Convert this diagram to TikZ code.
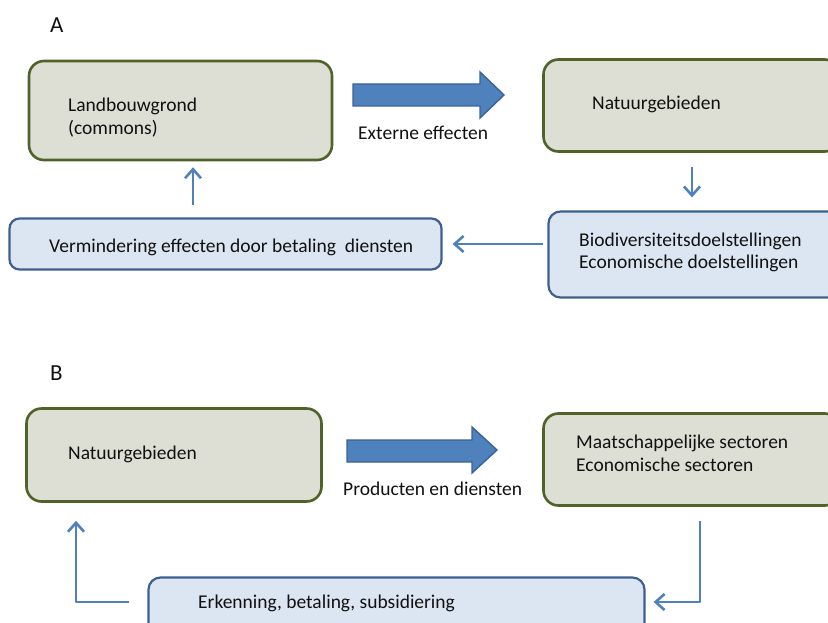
\documentclass[tikz,border=0pt]{standalone}
\usepackage{fontspec}
\setmainfont{Carlito}
\usetikzlibrary{arrows.meta}
\definecolor{olivefill}{HTML}{DDDFD4}
\definecolor{olivedraw}{HTML}{4F6228}
\definecolor{bluefill}{HTML}{DCE6F2}
\definecolor{bluedraw}{HTML}{3E6090}
\definecolor{arrowblue}{HTML}{4F81BD}
\definecolor{arrowedge}{HTML}{3A6396}
\definecolor{txt}{HTML}{111111}
\tikzset{
  greenbox/.style={draw=olivedraw, fill=olivefill, line width=2.6pt, rounded corners=15pt, inner sep=0pt},
  bluebox/.style={draw=bluedraw, fill=bluefill, line width=2.2pt, rounded corners=12pt, inner sep=0pt},
  label/.style={anchor=base west, inner sep=0pt, text=txt, font=\fontsize{19.5}{23}\selectfont},
  panel/.style={anchor=base west, inner sep=0pt, text=txt, font=\fontsize{23}{26}\selectfont},
  conn/.style={draw=arrowblue, line width=2.6pt, line join=round,
    -{Straight Barb[length=9pt,width=16pt,line width=2.6pt]}},
  bigarrow/.style={fill=arrowblue, draw=arrowedge, line width=1.4pt, line join=miter}
}
\begin{document}
\begin{tikzpicture}[x=1pt,y=-1pt]
\useasboundingbox (0,0) rectangle (828,623);
\clip (0,0) rectangle (828,623);

% ---------- panel A ----------
\node[panel] (labA) at (50,33) {A};

\node[greenbox, minimum width=303pt, minimum height=99pt] (land) at (180.5,110.5) {};
\node[label] (landT1) at (68,112) {Landbouwgrond};
\node[label] (landT2) at (68,135) {(commons)};

\node[greenbox, minimum width=296pt, minimum height=92pt] (natA) at (691.5,105.5) {};
\node[label] (natAT) at (592,110) {Natuurgebieden};

\node[bluebox, minimum width=291pt, minimum height=86pt] (bio) at (694,254.5) {};
\node[label] (bioT1) at (579,246) {Biodiversiteitsdoelstellingen};
\node[label] (bioT2) at (579,269) {Economische doelstellingen};

\node[bluebox, rounded corners=10pt, minimum width=432pt, minimum height=51pt] (verm) at (225.5,244) {};
\node[label] (vermT) at (49,252) {Vermindering effecten door betaling\ \ diensten};

% broad arrow: external effects
\path[bigarrow] (353,84) -- (480,84) -- (480,72) -- (504,95) -- (480,118) -- (480,106) -- (353,106) -- cycle;
\node[label] (extT) at (358,140) {Externe effecten};

% cycle of thin arrows
\coordinate (colUp) at (193,0);
\coordinate (colDown) at (692,0);
\draw[conn, shorten <=12pt, shorten >=6pt] (verm.north -| colUp) -- (land.south -| colUp);
\draw[conn, shorten <=14pt, shorten >=13pt] (natA.south -| colDown) -- (bio.north -| colDown);
\draw[conn, shorten <=4pt, shorten >=10pt] (bio.west |- verm.east) -- (verm.east);

% ---------- panel B ----------
\node[panel] (labB) at (50,380) {B};

\node[greenbox, minimum width=295pt, minimum height=93pt] (natB) at (174,455) {};
\node[label] (natBT) at (68,459) {Natuurgebieden};

\node[greenbox, minimum width=296pt, minimum height=92pt] (maat) at (691.5,459.5) {};
\node[label] (maatT1) at (576,448) {Maatschappelijke sectoren};
\node[label] (maatT2) at (576,471) {Economische sectoren};

\node[bluebox, minimum width=496pt, minimum height=72pt] (erk) at (396.5,613.5) {};
\node[label] (erkT) at (198,608) {Erkenning, betaling, subsidiering};

% broad arrow: products and services
\path[bigarrow] (347,440) -- (472,440) -- (472,427) -- (497,450) -- (472,473) -- (472,462) -- (347,462) -- cycle;
\node[label] (prodT) at (343,495) {Producten en diensten};

% return loop
\coordinate (colR) at (700,0);
\coordinate (rowLoop) at (0,602);
\coordinate (colL) at (76,0);
\draw[conn, shorten <=14pt, shorten >=8pt]
  (maat.south -| colR) -- (colR |- rowLoop) -- (erk.east |- rowLoop);
\draw[conn, shorten <=18pt, shorten >=18pt]
  (erk.west |- rowLoop) -- (colL |- rowLoop) -- (natB.south -| colL);
\end{tikzpicture}
\end{document}
